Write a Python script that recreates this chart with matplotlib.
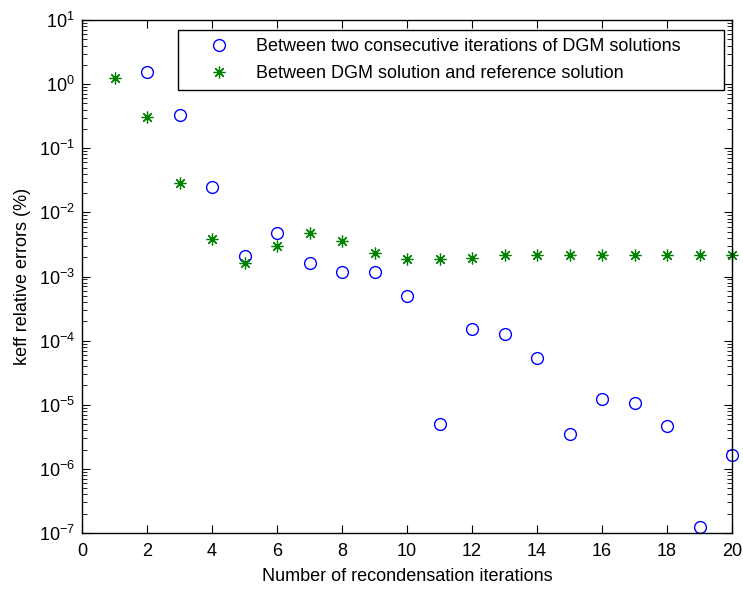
import numpy as np
from matplotlib import pyplot as plt
from matplotlib.ticker import LogFormatterSciNotation, NullFormatter

plt.rcParams['font.family'] = ['Liberation Sans', 'DejaVu Sans']
plt.rcParams['mathtext.default'] = 'regular'
plt.rcParams['axes.unicode_minus'] = False

# iteration numbers
it_consec = np.arange(2, 21)
it_ref = np.arange(1, 21)

# keff relative errors (%)
err_consec = [1.56, 0.33, 0.025, 0.0021, 0.0047, 0.0016, 0.00116, 0.00116, 4.9e-4,
              5.1e-6, 1.51e-4, 1.29e-4, 5.4e-5, 3.5e-6, 1.21e-5, 1.08e-5, 4.6e-6,
              1.24e-7, 1.64e-6]
err_ref = [1.26, 0.31, 0.0283, 0.0038, 0.0016, 0.0030, 0.0047, 0.0036, 0.0023,
           0.00187, 0.00187, 0.00196, 0.00216, 0.00216, 0.00216, 0.00216,
           0.00216, 0.00216, 0.00216, 0.00216]

labels = ['Between two consecutive iterations of DGM solutions',
          'Between DGM solution and reference solution']

fs = 13

fig = plt.figure(figsize=(7.43, 5.92), dpi=100)
ax = fig.add_axes([82/743, 1-533/592, 650/743, 513/592])

ax.semilogy(it_consec, err_consec, 'o', color='blue', mfc='none', ms=8.5, mew=1.0,
            label=labels[0], clip_on=False)
ax.semilogy(it_ref, err_ref, ls='none', marker=(8, 2, 0), color=(0, 0.5, 0), ms=8.5,
            mew=0.9, label=labels[1], clip_on=False)

ax.set_xlim(0, 20)
ax.set_ylim(1e-7, 1e1)
ax.set_xticks(np.arange(0, 21, 2))
decades = np.arange(-7, 2)
ax.set_yticks(10.0 ** decades)
ax.set_yticks([m * 10.0 ** d for d in decades[:-1] for m in range(2, 10)], minor=True)
ax.yaxis.set_major_formatter(LogFormatterSciNotation())
ax.yaxis.set_minor_formatter(NullFormatter())
ax.set_ylim(1e-7, 1e1)

ax.tick_params(which='both', direction='in', top=True, right=True, labelsize=fs)
ax.tick_params(which='major', length=6, width=0.8, pad=5)
ax.tick_params(axis='x', which='major', pad=7)
ax.tick_params(which='minor', length=3.5, width=0.6)
for s in ax.spines.values():
    s.set_linewidth(1.0)

ax.set_xlabel('Number of recondensation iterations', fontsize=fs, labelpad=6)
ax.set_ylabel('keff relative errors (%)', fontsize=fs, labelpad=6)

leg = ax.legend(loc='upper left', mode='expand',
                bbox_to_anchor=(178/743, 1-92/592, 546/743, 62/592),
                bbox_transform=fig.transFigure, fontsize=fs, fancybox=False,
                framealpha=1, edgecolor='black', borderaxespad=0,
                handlelength=3.6, handletextpad=0.25, borderpad=0.45,
                labelspacing=0.55)
leg.get_frame().set_linewidth(1.0)

fig.savefig('out.png', dpi=100)
